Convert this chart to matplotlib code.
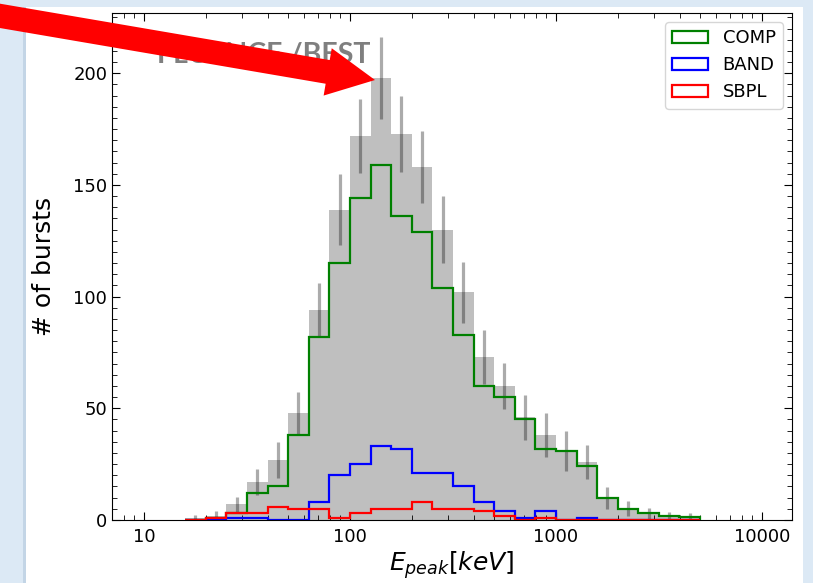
import numpy as np
import matplotlib.pyplot as plt
import matplotlib.patches as mpatches
import matplotlib.transforms as mtransforms
from matplotlib.ticker import MultipleLocator

# log bins, 10 per decade, from 10^1.2 to 10^3.7 keV
edges = np.logspace(1.2, 3.7, 26)
centers = np.sqrt(edges[:-1] * edges[1:])

total = [1, 2, 7, 17, 27, 48, 94, 139, 172, 198, 173, 158, 130,
         102, 73, 60, 46, 38, 31, 26, 10, 5, 3, 2, 1.5]
total_err = [1.3, 2, 3.4, 5.8, 8, 9.4, 12, 15.8, 16.5, 18.4, 17, 16, 15,
             13.7, 12, 10.1, 10.1, 10, 9, 7.5, 4.9, 3.4, 2.5, 1.4, 1.8]
comp = [0, 1, 3, 12, 15, 38, 82, 115, 144, 159, 136, 129, 104,
        83, 60, 55, 45, 32, 31, 24, 10, 5, 3, 2, 1.5]
band = [0, 0, 1, 1, 0, 0, 8, 20, 25, 33, 32, 21, 21,
        15, 8, 4, 1, 4, 0, 1, 0, 0, 0, 0, 0]
sbpl = [0, 1, 3, 3, 6, 5, 5, 1, 3, 5, 5, 8, 5,
        5, 4, 2, 0, 1, 0, 0, 0, 0, 0, 0, 0]

W, H = 813, 583
fig = plt.figure(figsize=(W / 100, H / 100), dpi=100, facecolor='#dce9f5')
# white slide area behind the chart
fig.patches.append(mpatches.Rectangle((26 / W, 0), (803 - 26) / W, (H - 7) / H,
                                      transform=fig.transFigure, facecolor='white',
                                      edgecolor='none', zorder=-2))
fig.patches.append(mpatches.Rectangle((23 / W, 0), 3 / W, (H - 7) / H,
                                      transform=fig.transFigure, facecolor='#c3d5e6',
                                      edgecolor='none', zorder=-2))

ax = fig.add_axes([112 / W, (H - 520) / H, (792 - 112) / W, (520 - 13) / H])

ax.hist(centers, bins=edges, weights=total, color='gray', alpha=0.5)
ax.errorbar(centers, total, yerr=total_err, fmt='none', ecolor='k',
            alpha=0.33, elinewidth=2.3)
ax.hist(centers, bins=edges, weights=comp, histtype='step', color='green',
        lw=1.6, label='COMP')
ax.hist(centers, bins=edges, weights=band, histtype='step', color='blue',
        lw=1.6, label='BAND')
ax.hist(centers, bins=edges, weights=sbpl, histtype='step', color='red',
        lw=1.6, label='SBPL')

ax.set_xscale('log')
ax.set_xlim(7, 1.4e4)
ax.set_ylim(0, 227)
ax.set_xticks([10, 100, 1000, 10000])
ax.set_xticklabels(['10', '100', '1000', '10000'])
ax.yaxis.set_major_locator(MultipleLocator(50))
ax.yaxis.set_minor_locator(MultipleLocator(5))
ax.tick_params(which='both', direction='in', top=True, right=True, labelsize=13)
ax.tick_params(which='major', length=6)
ax.tick_params(which='minor', length=3.5)
ax.tick_params(axis='x', pad=6)

ax.set_xlabel(r'$E_{peak}[keV]$', fontsize=18, labelpad=2)
ax.set_ylabel('# of bursts', fontsize=18, labelpad=12)
ax.legend(loc='upper right', fontsize=13)

# overlaid slide text and red arrow
fig.text(157 / W, (H - 63) / H, 'FLUENCE /BEST', fontsize=20.5, fontweight='bold',
         family='Lato', color='#7f7f7f', zorder=5)
arrow = mpatches.FancyArrow(-5, H - 15, 380, -65, width=24, head_width=48,
                            head_length=48, length_includes_head=True,
                            transform=mtransforms.IdentityTransform(),
                            facecolor='#ff0000', edgecolor='none', zorder=10)
fig.patches.append(arrow)

fig.savefig('out.png', dpi=100, facecolor=fig.get_facecolor())
